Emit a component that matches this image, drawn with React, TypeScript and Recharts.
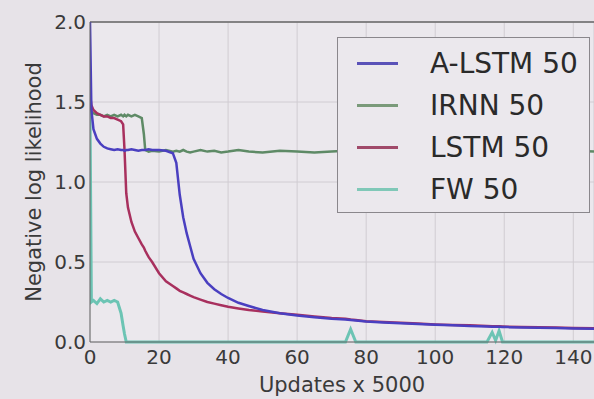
import React from "react";
import { LineChart, Line, XAxis, YAxis, CartesianGrid, ReferenceLine, Label } from "recharts";

const updates = [0, 0.4, 1, 2, 3, 4, 5, 6, 7, 8, 9, 9.6, 10, 10.5, 11, 12, 13, 14, 15, 15.6, 16, 17, 18, 20, 22, 24, 25, 26, 27, 28, 29, 30, 32, 34, 36, 38, 40, 43, 46, 50, 55, 60, 65, 70, 74, 75.5, 77, 80, 85, 90, 95, 100, 105, 110, 115, 116.5, 117.5, 118.5, 119.5, 121, 125, 130, 135, 140, 146];
const alstm = [2.0, 1.45, 1.33, 1.27, 1.24, 1.22, 1.21, 1.205, 1.2, 1.205, 1.2, 1.2, 1.195, 1.2, 1.2, 1.205, 1.2, 1.195, 1.2, 1.2, 1.2, 1.205, 1.2, 1.2, 1.195, 1.18, 1.12, 0.92, 0.78, 0.68, 0.6, 0.52, 0.43, 0.37, 0.33, 0.3, 0.275, 0.245, 0.225, 0.2, 0.18, 0.165, 0.155, 0.145, 0.14, 0.137, 0.134, 0.128, 0.122, 0.117, 0.112, 0.108, 0.104, 0.1, 0.097, 0.096, 0.095, 0.095, 0.094, 0.093, 0.091, 0.089, 0.087, 0.085, 0.083];
const irnn = [1.48, 1.44, 1.43, 1.42, 1.42, 1.41, 1.42, 1.41, 1.42, 1.41, 1.42, 1.41, 1.42, 1.41, 1.42, 1.41, 1.42, 1.41, 1.4, 1.3, 1.2, 1.19, 1.195, 1.19, 1.2, 1.19, 1.195, 1.19, 1.2, 1.19, 1.185, 1.19, 1.2, 1.19, 1.195, 1.185, 1.19, 1.2, 1.19, 1.185, 1.195, 1.19, 1.185, 1.19, 1.195, 1.19, 1.185, 1.19, 1.195, 1.19, 1.185, 1.19, 1.195, 1.19, 1.185, 1.19, 1.19, 1.19, 1.19, 1.195, 1.19, 1.185, 1.19, 1.195, 1.19];
const lstm = [1.55, 1.48, 1.45, 1.43, 1.42, 1.41, 1.41, 1.4, 1.4, 1.39, 1.38, 1.36, 1.2, 0.93, 0.84, 0.75, 0.69, 0.65, 0.61, 0.59, 0.57, 0.53, 0.5, 0.43, 0.38, 0.35, 0.335, 0.32, 0.31, 0.3, 0.29, 0.28, 0.265, 0.25, 0.24, 0.23, 0.22, 0.21, 0.2, 0.19, 0.18, 0.17, 0.16, 0.15, 0.145, 0.14, 0.137, 0.13, 0.125, 0.12, 0.115, 0.11, 0.107, 0.104, 0.1, 0.099, 0.098, 0.098, 0.097, 0.096, 0.094, 0.092, 0.09, 0.088, 0.086];
const fw = [1.45, 0.25, 0.26, 0.24, 0.27, 0.25, 0.26, 0.25, 0.26, 0.25, 0.18, 0.1, 0.05, 0.0, 0, 0, 0, 0, 0, 0, 0, 0, 0, 0, 0, 0, 0, 0, 0, 0, 0, 0, 0, 0, 0, 0, 0, 0, 0, 0, 0, 0, 0, 0, 0, 0.08, 0, 0, 0, 0, 0, 0, 0, 0, 0, 0.06, 0.01, 0.07, 0, 0, 0, 0, 0, 0, 0];

const xTicks = [0, 20, 40, 60, 80, 100, 120, 140];
const yTicks = [0, 0.5, 1.0, 1.5, 2.0];

const seriesNames = ["A-LSTM 50", "IRNN 50", "LSTM 50", "FW 50"];
const lineColors = ["#4a3fc0", "#5e8a66", "#a8305e", "#6cc4b4"];
const legendColors = ["#5a52b8", "#7a9a7a", "#a04a6a", "#80c8b8"];

const data = updates.map((u, i) => ({
  u,
  alstm: alstm[i],
  irnn: irnn[i],
  lstm: lstm[i],
  fw: fw[i],
}));

const font = "'DejaVu Sans', sans-serif";
const textColor = "#3a3a3a";

const LegendBox = () => (
  <div
    style={{
      position: "absolute",
      left: 337,
      top: 37,
      width: 253,
      height: 176,
      boxSizing: "border-box",
      border: "1.5px solid #8a878c",
      background: "#ebe8ed",
      fontFamily: font,
      fontSize: 28,
      color: "#2a2a2a",
      paddingTop: 4,
    }}
  >
    {seriesNames.map((n, i) => (
      <div key={n} style={{ display: "flex", alignItems: "center", height: 42 }}>
        <div style={{ width: 41, height: 3, background: legendColors[i], marginLeft: 19, marginRight: 32 }} />
        <span>{n}</span>
      </div>
    ))}
  </div>
);

export default function App() {
  return (
    <div style={{ position: "absolute", left: 0, top: 0, width: 594, height: 399, background: "#e7e3e8", overflow: "hidden" }}>
      <LineChart width={594} height={399} data={data} margin={{ top: 22, right: 0, bottom: 0, left: 0 }}>
        <CartesianGrid stroke="#d0ccd2" fill="#ebe8ed" vertical horizontal />
        <XAxis
          dataKey="u"
          type="number"
          domain={[0, 146]}
          ticks={xTicks}
          allowDataOverflow
          height={57}
          tickSize={0}
          tickMargin={8}
          stroke="#666"
          tick={{ fill: textColor, fontSize: 20, fontFamily: font }}
        >
          <Label
            content={() => (
              <text x={342} y={392} textAnchor="middle" fill={textColor} fontSize={21} fontFamily={font}>
                Updates x 5000
              </text>
            )}
          />
        </XAxis>
        <YAxis
          type="number"
          domain={[0, 2]}
          ticks={yTicks}
          width={90}
          tickSize={0}
          tickMargin={4}
          stroke="#666"
          tickFormatter={(v: number) => v.toFixed(1)}
          tick={{ fill: textColor, fontSize: 20, fontFamily: font }}
        >
          <Label
            content={() => (
              <text x={35} y={182} transform="rotate(-90 35 182)" textAnchor="middle" dominantBaseline="middle" fill={textColor} fontSize={21} fontFamily={font}>
                Negative log likelihood
              </text>
            )}
          />
        </YAxis>
        <ReferenceLine y={2} stroke="#666" strokeWidth={1.5} />
        <Line dataKey="irnn" stroke={lineColors[1]} strokeWidth={2.5} dot={false} isAnimationActive={false} />
        <Line dataKey="fw" stroke={lineColors[3]} strokeWidth={3} dot={false} isAnimationActive={false} />
        <Line dataKey="lstm" stroke={lineColors[2]} strokeWidth={2.5} dot={false} isAnimationActive={false} />
        <Line dataKey="alstm" stroke={lineColors[0]} strokeWidth={2.5} dot={false} isAnimationActive={false} />
      </LineChart>
      <LegendBox />
    </div>
  );
}
